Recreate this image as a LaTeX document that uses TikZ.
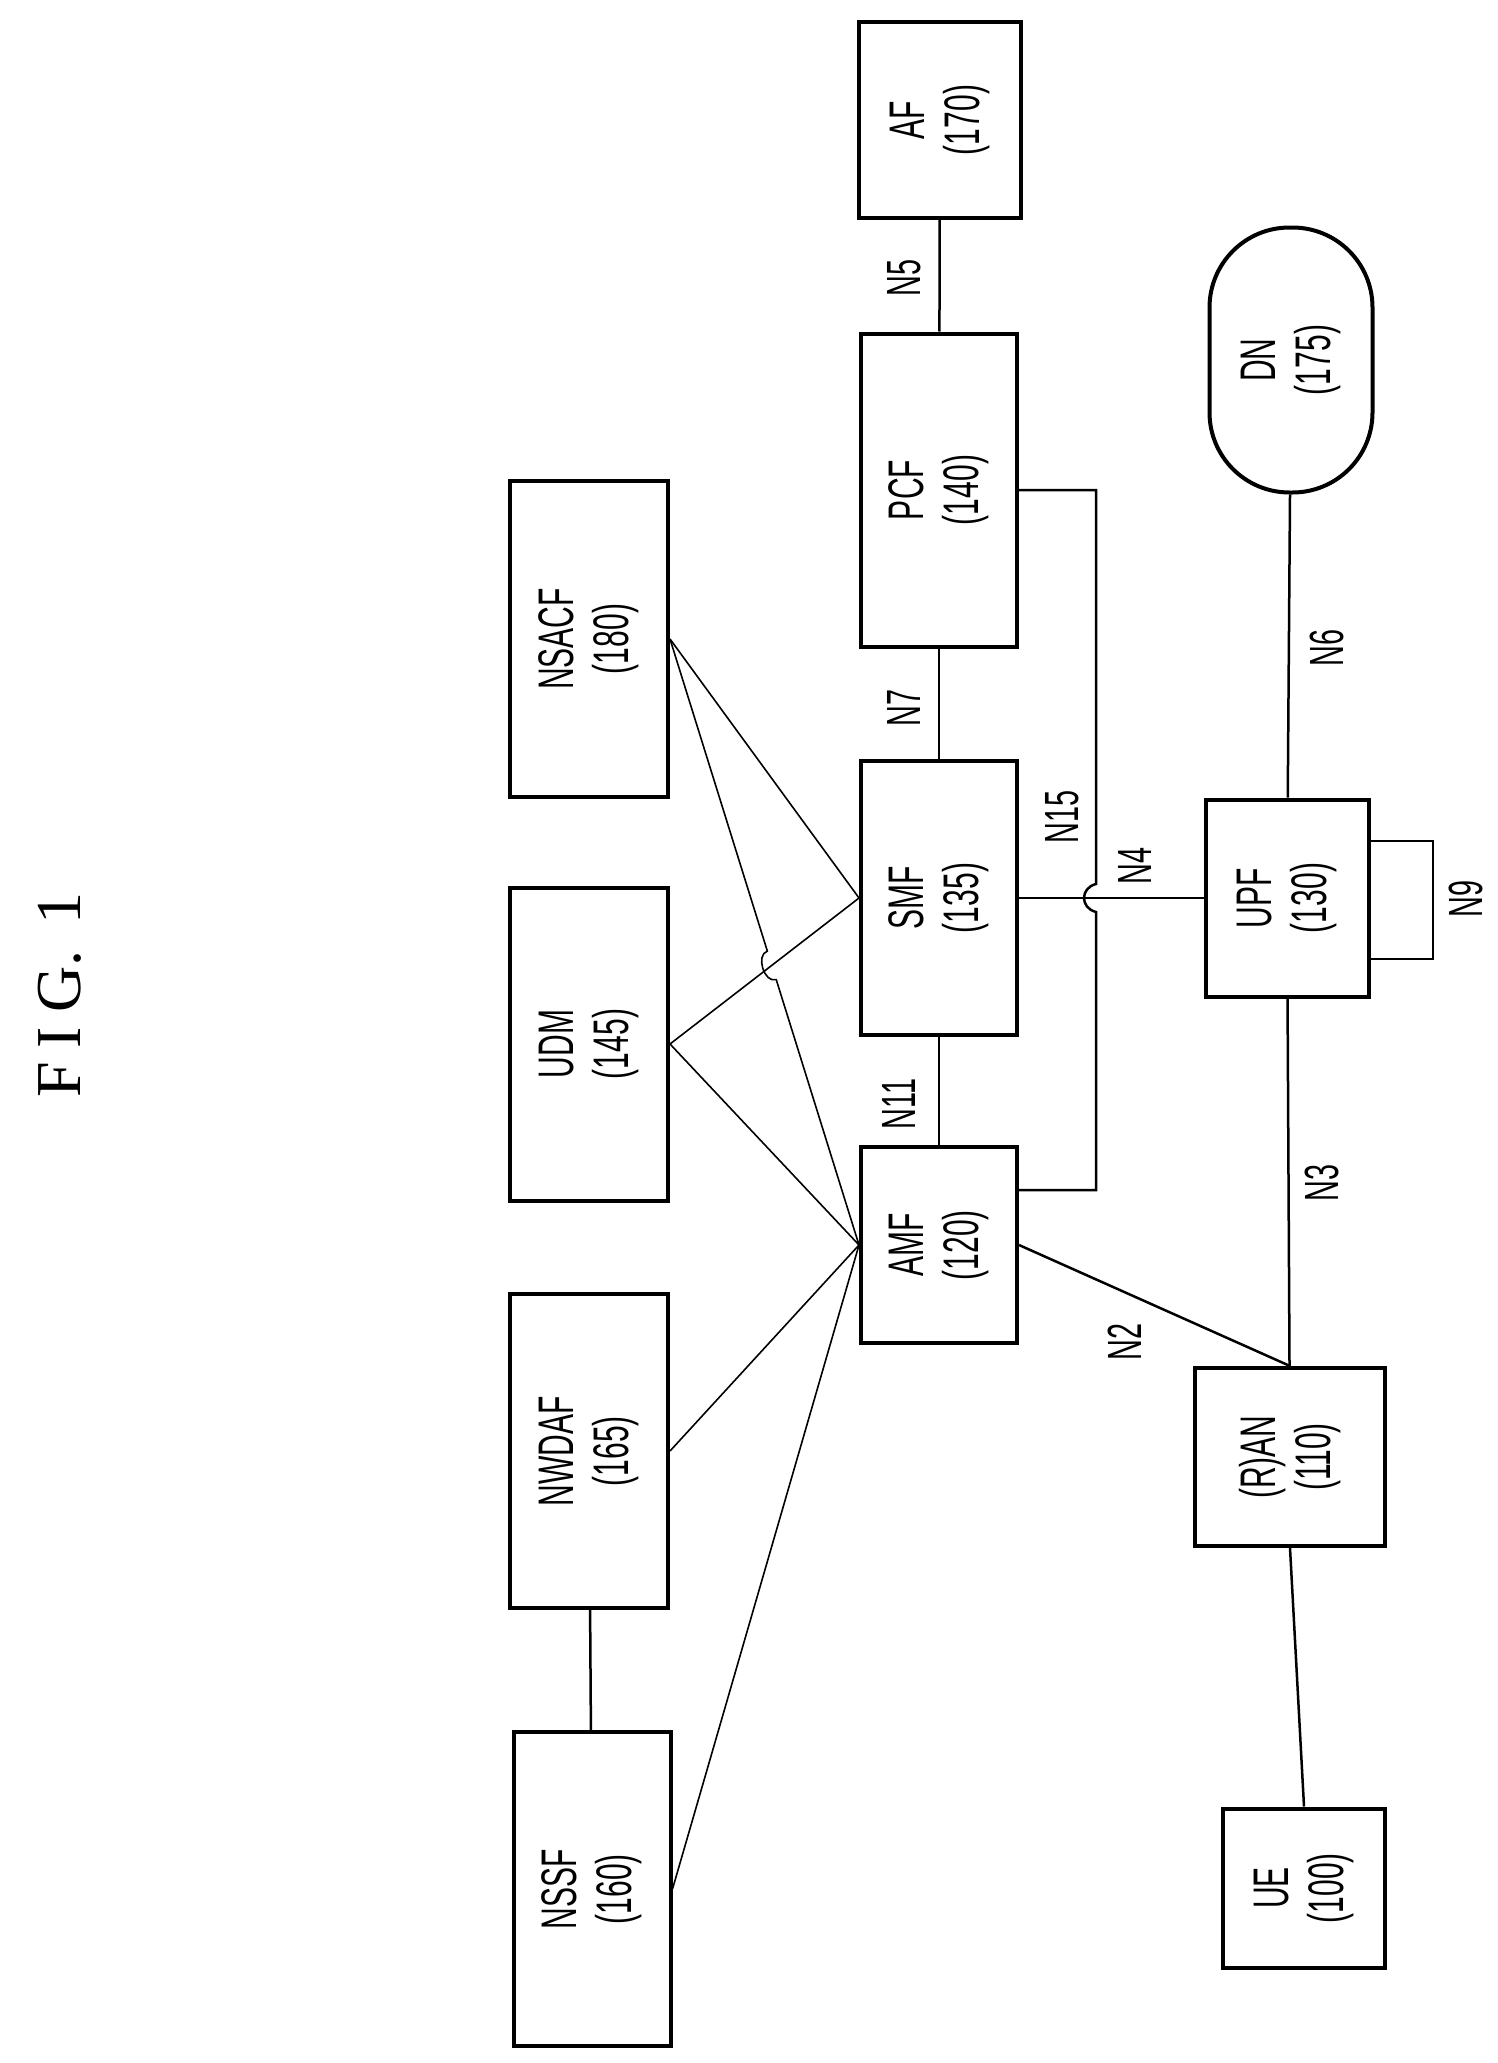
\documentclass[tikz,border=0pt]{standalone}
\usepackage{fontspec}
\setmainfont[FakeStretch=0.6]{Liberation Sans}
\newfontfamily\figfont{Liberation Serif}
\usetikzlibrary{calc}

\tikzset{
  nf/.style={draw, line width=4pt, inner sep=0pt},
  lbl/.style={rotate=90, align=center, font=\fontsize{50}{55}\selectfont},
  ref/.style={rotate=90, font=\fontsize{48}{50}\selectfont},
  link/.style={line width=2.5pt},
  thin link/.style={line width=1.6pt}
}

\begin{document}
\begin{tikzpicture}[x=1pt,y=-1pt]
\useasboundingbox (0,0) rectangle (1498,2063);

\node[rotate=90, font=\figfont\fontsize{64}{68}\selectfont] (fig) at (60,995) {F\kern14pt I\kern14pt G.\kern26pt 1};

% network functions
\node[nf, minimum width=162pt, minimum height=196pt] (af) at (940,120) {};
\node[nf, minimum width=156pt, minimum height=313pt] (pcf) at (939,490) {};
\node[nf, rounded corners=80pt, minimum width=163pt, minimum height=265pt] (dn) at (1291,360) {};
\node[nf, minimum width=158pt, minimum height=316pt] (nsacf) at (589,639) {};
\node[nf, minimum width=156pt, minimum height=274pt] (smf) at (939,898) {};
\node[nf, minimum width=158pt, minimum height=313pt] (udm) at (589,1044) {};
\node[nf, minimum width=163pt, minimum height=197pt] (upf) at (1287,898) {};
\node[nf, minimum width=156pt, minimum height=196pt] (amf) at (939,1245) {};
\node[nf, minimum width=158pt, minimum height=314pt] (nwdaf) at (589,1451) {};
\node[nf, minimum width=190pt, minimum height=178pt] (ran) at (1290,1457) {};
\node[nf, minimum width=157pt, minimum height=314pt] (nssf) at (592,1889) {};
\node[nf, minimum width=162pt, minimum height=159pt] (ue) at (1304,1888) {};

\node[lbl] (af-l) at (af) {AF\\(170)};
\node[lbl] (pcf-l) at (pcf) {PCF\\(140)};
\node[lbl] (dn-l) at (dn) {DN\\(175)};
\node[lbl] (nsacf-l) at (nsacf) {NSACF\\(180)};
\node[lbl] (smf-l) at (smf) {SMF\\(135)};
\node[lbl] (udm-l) at (udm) {UDM\\(145)};
\node[lbl] (upf-l) at (upf) {UPF\\(130)};
\node[lbl] (amf-l) at (amf) {AMF\\(120)};
\node[lbl] (nwdaf-l) at (nwdaf) {NWDAF\\(165)};
\node[lbl] (ran-l) at (ran) {(R)AN\\(110)};
\node[lbl] (nssf-l) at (nssf) {NSSF\\(160)};
\node[lbl] (ue-l) at (ue) {UE\\(100)};

% reference points
\draw[link] (af) -- (pcf);
\draw[link] (pcf) -- (smf);
\draw[link] (smf) -- (amf);
\draw[link] (dn) -- (upf);
\draw[link] (upf) -- (ran);
\draw[link] (ran.south) -- (ue.north);
\draw[link] (nwdaf) -- (nssf);
\draw[link] (smf) -- (upf);
\draw[link] (amf.east) -- (ran.north);
\draw[link] (upf.east |- 0,841) -- (1433,841) -- (1433,959) -- (upf.east |- 0,959);
\draw[link] (pcf.east) -- (1096,490) -- (1096,884)
  .. controls (1080,888) and (1080,908) .. (1096,912) -- (1096,1190) -- (amf.east |- 0,1190);

\node[ref] (n5) at (904,278) {N5};
\node[ref] (n7) at (904,708) {N7};
\node[ref] (n11) at (899,1104) {N11};
\node[ref] (n6) at (1327,648) {N6};
\node[ref] (n15) at (1062,817) {N15};
\node[ref] (n4) at (1135,866) {N4};
\node[ref] (n9) at (1466,899) {N9};
\node[ref] (n3) at (1322,1183) {N3};
\node[ref] (n2) at (1125,1342) {N2};

% service links
\draw[thin link] (nsacf.east) -- (smf.west);
\draw[thin link] (udm.east) -- (smf.west);
\draw[thin link] (udm.east) -- (amf.west);
\draw[thin link] (nwdaf.east) -- (amf.west);
\draw[thin link] (nssf.east) -- (amf.west);
\coordinate (jmp-a) at ($(nsacf.east)!0.515!(amf.west)$);
\coordinate (jmp-b) at ($(nsacf.east)!0.562!(amf.west)$);
\draw[thin link] (nsacf.east) -- (jmp-a)
  .. controls ($(jmp-a)+(-12,4)$) and ($(jmp-b)+(-12,4)$) .. (jmp-b) -- (amf.west);
\end{tikzpicture}
\end{document}
